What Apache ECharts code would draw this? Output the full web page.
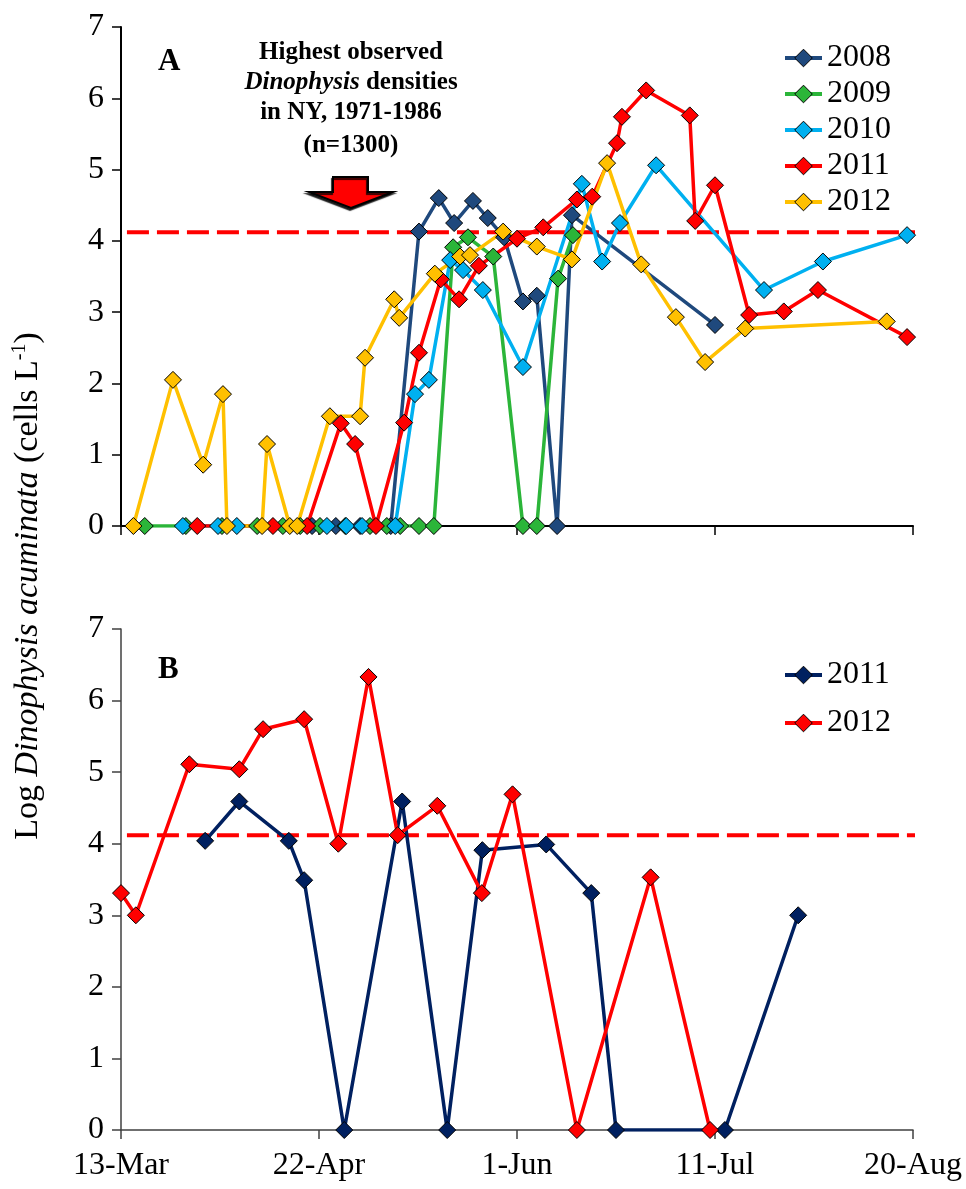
<!DOCTYPE html>
<html><head><meta charset="utf-8">
<script src="https://cdn.jsdelivr.net/npm/echarts@6/dist/echarts.min.js"></script>
<style>html,body{margin:0;padding:0;background:#fff}#c{width:966px;height:1189px}</style>
</head><body><div id="c"></div>
<script>
// x values = days after 13-Mar
const tickLabels = ['13-Mar', '22-Apr', '1-Jun', '11-Jul', '20-Aug'];
const yTicks = [0, 1, 2, 3, 4, 5, 6, 7];
const threshold = 4.12;
const thresholdSpan = [1.2, 165.7];

// Panel A
const a2008Day = [38.6, 43.4, 48.3, 54.5, 60.2, 64.2, 67.3, 71.1, 74.1, 77.4, 81.2, 84.0, 88.1, 91.1, 120.0];
const a2008Val = [0, 0, 0, 0, 4.13, 4.60, 4.25, 4.56, 4.32, 4.05, 3.15, 3.23, 0, 4.36, 2.82];
const a2009Day = [4.8, 13.1, 20.4, 27.5, 32.7, 36.2, 40.2, 45.3, 50.3, 53.7, 56.4, 60.2, 63.2, 67.1, 70.1, 75.2, 81.2, 84.0, 88.3, 91.3];
const a2009Val = [0, 0, 0, 0, 0, 0, 0, 0, 0, 0, 0, 0, 0, 3.91, 4.05, 3.78, 0, 0, 3.47, 4.08];
const a2010Day = [12.5, 19.6, 23.4, 41.6, 45.5, 48.7, 55.4, 59.4, 62.2, 66.5, 69.1, 73.1, 81.2, 93.1, 97.2, 100.8, 108.1, 129.9, 141.8, 158.8];
const a2010Val = [0, 0, 0, 0, 0, 0, 0, 1.85, 2.05, 3.73, 3.59, 3.31, 2.23, 4.80, 3.71, 4.25, 5.06, 3.31, 3.71, 4.08];
const a2011Day = [15.4, 30.7, 37.6, 44.4, 47.3, 51.5, 57.2, 60.2, 64.6, 68.3, 72.3, 80.0, 85.3, 92.1, 95.2, 100.2, 101.2, 106.1, 114.9, 116.0, 120.0, 126.9, 133.9, 140.8, 158.8];
const a2011Val = [0, 0, 0, 1.44, 1.15, 0, 1.45, 2.43, 3.46, 3.18, 3.65, 4.03, 4.19, 4.58, 4.62, 5.37, 5.74, 6.11, 5.76, 4.28, 4.78, 2.96, 3.01, 3.31, 2.65];
const a2012Day = [2.5, 10.5, 16.6, 20.6, 21.4, 28.5, 29.5, 34.1, 35.6, 42.2, 48.3, 49.3, 55.2, 56.2, 63.4, 68.5, 70.5, 77.2, 84.0, 91.1, 98.2, 105.1, 112.1, 118.0, 126.1, 154.7];
const a2012Val = [0, 2.05, 0.86, 1.85, 0, 0, 1.15, 0, 0, 1.54, 1.54, 2.36, 3.18, 2.92, 3.54, 3.78, 3.80, 4.13, 3.92, 3.74, 5.09, 3.67, 2.93, 2.30, 2.77, 2.87];

// Panel B
const b2011Day = [17.0, 23.9, 33.9, 37.0, 45.1, 56.8, 65.9, 73.0, 85.9, 95.0, 100.0, 122.0, 136.8];
const b2011Val = [4.04, 4.59, 4.04, 3.49, 0, 4.59, 0, 3.91, 3.99, 3.31, 0, 0, 3.00];
const b2012Day = [0, 3.0, 13.8, 23.9, 28.7, 37.0, 43.9, 50.0, 55.9, 63.9, 72.9, 79.1, 92.1, 107.0, 119.0];
const b2012Val = [3.31, 3.00, 5.11, 5.04, 5.60, 5.74, 4.00, 6.33, 4.12, 4.53, 3.31, 4.69, 0, 3.53, 0];

const serif = 'Liberation Serif';
const zip = (d, v) => d.map((x, i) => [x, v[i]]);

function lineSeries(name, days, vals, color, idx) {
  return {
    name, type: 'line', xAxisIndex: idx, yAxisIndex: idx,
    data: zip(days, vals),
    symbol: 'diamond', symbolSize: 17,
    lineStyle: { color, width: 3.5 },
    itemStyle: { color, borderColor: '#000', borderWidth: 1 },
    z: 3, animation: false
  };
}
function dashSeries(idx) {
  return {
    type: 'line', xAxisIndex: idx, yAxisIndex: idx, clip: false, silent: true,
    data: thresholdSpan.map(x => [x, threshold]), symbol: 'none',
    lineStyle: { color: '#FF0000', width: 4, type: [22, 8] }, z: 2, animation: false
  };
}
function xAxis(idx, showLabels, axisColor) {
  return {
    type: 'value', gridIndex: idx, min: 0, max: 160, interval: 40,
    axisLine: { show: true, onZero: false, lineStyle: { color: axisColor, width: idx === 0 ? 2 : 1.5 } },
    axisTick: { show: true, inside: false, length: 9, lineStyle: { color: axisColor, width: 1.5 } },
    axisLabel: { show: showLabels, fontFamily: serif, fontSize: 32, color: '#000', margin: 20,
      formatter: v => tickLabels[Math.round(v / 40)] },
    splitLine: { show: false }
  };
}
function yAxis(idx, axisColor) {
  return {
    type: 'value', gridIndex: idx, min: yTicks[0], max: yTicks[yTicks.length - 1], interval: 1,
    axisLine: { show: true, lineStyle: { color: axisColor, width: idx === 0 ? 2 : 1.5 } },
    axisTick: { show: true, inside: false, length: 9, lineStyle: { color: axisColor, width: 1.5 } },
    axisLabel: { fontFamily: serif, fontSize: 32, color: '#000', margin: 17 },
    splitLine: { show: false }
  };
}
const legendText = { fontFamily: serif, fontSize: 32, color: '#000', lineHeight: 36 };
const legendCommon = { orient: 'vertical', left: 778, itemWidth: 37, itemHeight: 22, selectedMode: false,
  textStyle: legendText, lineStyle: { width: 4 }, itemStyle: { borderColor: '#000', borderWidth: 1 } };

const chart = echarts.init(document.getElementById('c'), null, { renderer: 'canvas' });
chart.setOption({
  backgroundColor: '#fff',
  animation: false,
  grid: [
    { left: 121, right: 53, top: 27, height: 499 },
    { left: 121, right: 53, top: 629, height: 501 }
  ],
  xAxis: [xAxis(0, false, '#000'), xAxis(1, true, '#404040')],
  yAxis: [yAxis(0, '#000'), yAxis(1, '#404040')],
  legend: [
    Object.assign({ data: ['2008', '2009', '2010', '2011', '2012'], top: 35, itemGap: 0 }, legendCommon),
    Object.assign({ data: ['2011 B', '2012 B'], top: 652, itemGap: 12, formatter: n => n.replace(' B', '') }, legendCommon)
  ],
  series: [
    dashSeries(0),
    lineSeries('2008', a2008Day, a2008Val, '#1F497D', 0),
    lineSeries('2009', a2009Day, a2009Val, '#2BB539', 0),
    lineSeries('2010', a2010Day, a2010Val, '#00B0F0', 0),
    lineSeries('2011', a2011Day, a2011Val, '#FF0000', 0),
    lineSeries('2012', a2012Day, a2012Val, '#FFC000', 0),
    dashSeries(1),
    lineSeries('2011 B', b2011Day, b2011Val, '#002060', 1),
    lineSeries('2012 B', b2012Day, b2012Val, '#FF0000', 1)
  ],
  graphic: [
    { type: 'text', left: 158, top: 46, style: { text: 'A', font: 'bold 31px "Liberation Serif"', fill: '#000' } },
    { type: 'text', left: 158, top: 654, style: { text: 'B', font: 'bold 31px "Liberation Serif"', fill: '#000' } },
    { type: 'text', x: 351, y: 53, style: { text: 'Highest observed', font: 'bold 25px "Liberation Serif"', fill: '#000', align: 'center', verticalAlign: 'middle' } },
    { type: 'text', x: 351, y: 83, style: {
        text: '{i|Dinophysis}{b| densities}', align: 'center', verticalAlign: 'middle',
        rich: { i: { font: 'italic bold 25px "Liberation Serif"', fill: '#000' }, b: { font: 'bold 25px "Liberation Serif"', fill: '#000' } } } },
    { type: 'text', x: 351, y: 113, style: { text: 'in NY, 1971-1986', font: 'bold 25px "Liberation Serif"', fill: '#000', align: 'center', verticalAlign: 'middle' } },
    { type: 'text', x: 351, y: 146, style: { text: '(n=1300)', font: 'bold 25px "Liberation Serif"', fill: '#000', align: 'center', verticalAlign: 'middle' } },
    { type: 'polygon', shape: { points: [[333, 177], [368, 177], [368, 192], [393, 192], [351, 208], [309, 192], [333, 192]] },
      style: { fill: '#FF0000', stroke: '#000', lineWidth: 2, shadowColor: 'rgba(0,0,0,0.8)', shadowOffsetX: -1, shadowOffsetY: 2, shadowBlur: 1 } },
    { type: 'text', x: 28, y: 586, rotation: Math.PI / 2, style: {
        text: '{n|Log }{i|Dinophysis acuminata}{n| (cells L}{s|-1}{n|)}', align: 'center', verticalAlign: 'middle',
        rich: {
          n: { fontFamily: serif, fontSize: 34, fill: '#000', lineHeight: 36 },
          i: { fontFamily: serif, fontSize: 34, fontStyle: 'italic', fill: '#000', lineHeight: 36 },
          s: { fontFamily: serif, fontSize: 20, fill: '#000', lineHeight: 36, verticalAlign: 'top', padding: [0, 0, 14, 0] }
        } } }
  ]
});
</script></body></html>
